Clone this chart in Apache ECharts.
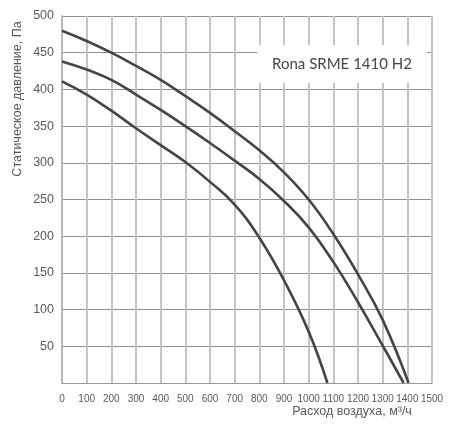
<!DOCTYPE html>
<html>
<head>
<meta charset="utf-8">
<script src="https://cdn.jsdelivr.net/npm/echarts@6/dist/echarts.min.js"></script>
<style>
html,body{margin:0;padding:0;background:#fff;}
#c{width:452px;height:426px;}
</style>
</head>
<body>
<div id="c"></div>
<script>
// Air flow (m3/h) vs static pressure (Pa)
var curveTop = [[0,480],[100,466],[200,450],[300,432],[400,413],[500,391],[600,368],[700,343],[800,317],[900,287],[1000,250],[1100,203],[1200,148],[1300,86],[1405,0]];
var curveMid = [[0,438],[100,427],[200,413],[300,393],[400,372],[500,350],[600,327],[700,303],[800,278],[900,248],[1000,212],[1100,165],[1200,110],[1300,51],[1385,0]];
var curveLow = [[0,411],[100,393],[200,371],[300,347],[400,324],[500,301],[600,274],[700,243],[800,198],[900,140],[1000,70],[1076,0]];
var xTitle = 'Расход воздуха, м³/ч';
var yTitle = 'Статическое давление, Па';
var modelLabel = 'Rona SRME 1410 H2';

var chart = echarts.init(document.getElementById('c'), null, {renderer:'canvas'});
var lineStyle = {color:'#454545', width:2.6};
function mk(d){return {type:'line', data:d, smooth:0.45, symbol:'none', lineStyle:lineStyle, z:3, silent:true};}
chart.setOption({
  animation:false,
  backgroundColor:'#fff',
  grid:{left:62, right:20, top:16, bottom:43, containLabel:false},
  xAxis:{type:'value', min:0, max:1500, interval:100,
    axisLine:{show:true, lineStyle:{color:'#9a9a9a', width:1}},
    axisTick:{show:false},
    axisLabel:{color:'#595959', fontSize:10, fontFamily:'Liberation Sans', margin:11,
      showMinLabel:true, showMaxLabel:true, hideOverlap:false,
      formatter:function(v){return String(v);}},
    splitLine:{show:true, lineStyle:{color:'#c4c4c4', width:2}}
  },
  yAxis:{type:'value', min:0, max:500, interval:50,
    axisLine:{show:true, lineStyle:{color:'#b8b8b8', width:2}},
    axisTick:{show:false},
    axisLabel:{color:'#595959', fontSize:12.5, fontFamily:'Liberation Sans', margin:8,
      formatter:function(v){return v===0?'':String(v);}},
    splitLine:{show:true, lineStyle:{color:'#8f8f8f', width:1}}
  },
  series:[mk(curveTop), mk(curveMid), mk(curveLow)],
  graphic:[
    {type:'rect', shape:{x:257, y:45, width:170, height:38}, style:{fill:'#fff'}, z:10},
    {type:'text', x:342, y:64, z:11, style:{text:modelLabel, fill:'#454545', font:'15px Lato', textAlign:'center', textVerticalAlign:'middle'}},
    {type:'text', x:352, y:412, style:{text:xTitle, fill:'#595959', font:'12.5px "Liberation Sans"', textAlign:'center', textVerticalAlign:'middle'}},
    {type:'text', x:18, y:99, rotation:Math.PI/2, style:{text:yTitle, fill:'#595959', font:'12.5px "Liberation Sans"', textAlign:'center', textVerticalAlign:'middle'}}
  ]
});
</script>
</body>
</html>
